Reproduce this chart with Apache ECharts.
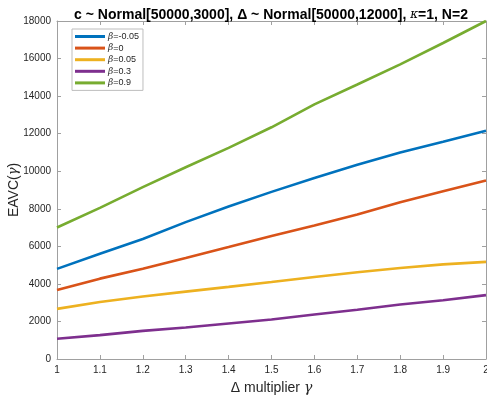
<!DOCTYPE html>
<html>
<head>
<meta charset="utf-8">
<script src="https://cdn.jsdelivr.net/npm/echarts@6/dist/echarts.min.js"></script>
<style>
  html, body { margin: 0; padding: 0; background: #fff; }
  #chart { width: 487px; height: 398px; }
</style>
</head>
<body>
<div id="chart"></div>
<script>
// gamma values (Δ multiplier)
const gammas = [1, 1.1, 1.2, 1.3, 1.4, 1.5, 1.6, 1.7, 1.8, 1.9, 2]

const betaLabels = ['-0.05', '0', '0.05', '0.3', '0.9']
const lineColors = ['#0072BD', '#D95319', '#EDB120', '#7E2F8E', '#77AC30']

// EAVC(γ), one array per β
const betaNeg005 = [4800, 5610, 6390, 7290, 8120, 8900, 9640, 10340, 11000, 11570, 12150]
const beta0 = [3670, 4280, 4810, 5380, 5960, 6550, 7110, 7690, 8350, 8930, 9510]
const beta005 = [2670, 3040, 3330, 3590, 3840, 4100, 4370, 4620, 4850, 5040, 5170]
const beta03 = [1080, 1270, 1500, 1680, 1890, 2100, 2370, 2620, 2900, 3130, 3400]
const beta09 = [7000, 8050, 9150, 10210, 11240, 12340, 13560, 14620, 15690, 16830, 18000]

const seriesValues = [betaNeg005, beta0, beta005, beta03, beta09]

const font = 'Liberation Sans, Arial, Helvetica, sans-serif'
const axisGrey = '#a0a0a0'
const textColor = '#262626'

const chart = echarts.init(document.getElementById('chart'), null, { renderer: 'canvas' })

const series = seriesValues.map((vals, i) => ({
  name: betaLabels[i],
  type: 'line',
  data: vals.map((v, j) => [gammas[j], v]),
  showSymbol: false,
  symbol: 'none',
  smooth: false,
  lineStyle: { width: 2.6, color: lineColors[i] },
  itemStyle: { color: lineColors[i] },
  emphasis: { disabled: true },
  z: 3
}))

const xBase = {
  type: 'value',
  min: 1,
  max: 2,
  interval: 0.1,
  axisLine: { show: true, onZero: false, lineStyle: { color: axisGrey, width: 1 } },
  axisTick: { show: true, inside: true, length: 4, lineStyle: { color: axisGrey } },
  splitLine: { show: false }
}

const yBase = {
  type: 'value',
  min: 0,
  max: 18000,
  interval: 2000,
  axisLine: { show: true, onZero: false, lineStyle: { color: axisGrey, width: 1 } },
  axisTick: { show: true, inside: true, length: 4, lineStyle: { color: axisGrey } },
  splitLine: { show: false }
}

chart.setOption({
  animation: false,
  backgroundColor: '#fff',
  textStyle: { fontFamily: font },
  title: {
    text: 'c ~ Normal[50000,3000], Δ ~ Normal[50000,12000], {k|κ}=1, N=2',
    left: 266,
    textAlign: 'center',
    top: 3,
    textStyle: {
      fontFamily: font,
      fontSize: 14,
      fontWeight: 'bold',
      color: '#000',
      rich: {
        k: { fontFamily: 'DejaVu Serif, serif', fontStyle: 'italic', fontSize: 12, fontWeight: 'normal', color: '#000' }
      }
    }
  },
  legend: {
    data: betaLabels,
    orient: 'vertical',
    left: 72,
    top: 29,
    itemWidth: 30,
    itemHeight: 3,
    itemGap: 2.6,
    icon: 'rect',
    padding: [3, 4, 3, 3],
    borderColor: '#bdbdbd',
    borderWidth: 1,
    backgroundColor: '#fff',
    formatter: (name) => '{b|β}=' + name,
    textStyle: {
      fontFamily: font,
      fontSize: 9,
      color: textColor,
      padding: [0, 0, 0, -2],
      rich: {
        b: { fontFamily: 'DejaVu Serif, serif', fontStyle: 'italic', fontSize: 9, color: textColor }
      }
    }
  },
  grid: { left: 57, right: 1, top: 21, bottom: 39, containLabel: false, outerBoundsMode: 'none' },
  xAxis: [
    {
      ...xBase,
      position: 'bottom',
      name: 'Δ multiplier {g|γ}',
      nameLocation: 'middle',
      nameGap: 22,
      nameMoveOverlap: false,
      nameTextStyle: {
        fontFamily: font,
        fontSize: 14,
        color: textColor,
        rich: { g: { fontFamily: 'DejaVu Serif, serif', fontStyle: 'italic', fontSize: 14, color: textColor } }
      },
      axisLabel: {
        fontSize: 10,
        color: textColor,
        margin: 6,
        formatter: (v) => String(Math.round(v * 10) / 10)
      }
    },
    {
      ...xBase,
      position: 'top',
      axisLabel: { show: false }
    }
  ],
  yAxis: [
    {
      ...yBase,
      position: 'left',
      name: 'EAVC({g|γ})',
      nameLocation: 'middle',
      nameGap: 36,
      nameMoveOverlap: false,
      nameTextStyle: {
        fontFamily: font,
        fontSize: 14,
        color: textColor,
        rich: { g: { fontFamily: 'DejaVu Serif, serif', fontStyle: 'italic', fontSize: 13, color: textColor } }
      },
      axisLabel: { fontSize: 10, color: textColor, margin: 6, formatter: (v) => String(v) }
    },
    {
      ...yBase,
      position: 'right',
      axisLabel: { show: false }
    }
  ],
  series
})
</script>
</body>
</html>
